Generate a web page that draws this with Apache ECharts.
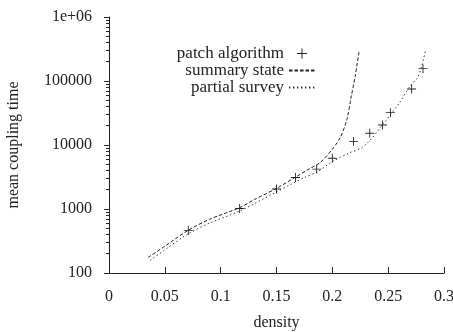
<!DOCTYPE html>
<html>
<head>
<meta charset="utf-8">
<script src="https://cdn.jsdelivr.net/npm/echarts@6/dist/echarts.min.js"></script>
<style>
  html, body { margin: 0; padding: 0; background: #fff; }
  #chart { width: 453px; height: 332px; }
</style>
</head>
<body>
<div id="chart"></div>
<script>
// patch algorithm (markers)
const patchX = [0.071, 0.117, 0.150, 0.167, 0.186, 0.200, 0.219, 0.2335, 0.245, 0.252, 0.271, 0.2812];
const patchY = [460, 1020, 2050, 3100, 4200, 6200, 11300, 15300, 20500, 32000, 75000, 156000];

// summary state (dashed)
const summaryX = [0.035, 0.05, 0.07, 0.09, 0.117, 0.13, 0.15, 0.167, 0.18, 0.189, 0.2, 0.207, 0.213, 0.217, 0.2205, 0.224];
const summaryY = [175, 262, 455, 690, 1050, 1400, 2100, 3150, 4300, 5300, 8600, 13000, 25000, 58000, 119000, 295000];

// partial survey (dotted)
const partialX = [0.037, 0.05, 0.07, 0.09, 0.117, 0.15, 0.162, 0.175, 0.187, 0.2, 0.215, 0.226, 0.234, 0.244, 0.26, 0.27, 0.276, 0.28, 0.2833];
const partialY = [158, 230, 400, 600, 930, 1850, 2380, 3100, 3850, 5500, 7500, 9000, 12000, 19600, 45600, 85000, 110000, 170000, 295000];

const xTicks = [0, 0.05, 0.1, 0.15, 0.2, 0.25, 0.3];
const yRange = [100, 1000000];

const zip = (xs, ys) => xs.map((x, i) => [x, ys[i]]);
const font = 'Liberation Serif';
const ink = '#222';
const plus = 'path://M4.5,0h1v10h-1z M0,4.5h10v1h-10z';

const chart = echarts.init(document.getElementById('chart'));
chart.setOption({
  animation: false,
  grid: { left: 109, right: 9, top: 17, bottom: 59, outerBoundsMode: 'none' },
  legend: {
    orient: 'vertical',
    align: 'right',
    right: 132,
    top: 40,
    itemWidth: 26,
    itemHeight: 10,
    itemGap: 0,
    textStyle: { fontFamily: font, fontSize: 17, lineHeight: 16.7, color: ink },
    data: [
      { name: 'patch algorithm' },
      { name: 'summary state', itemStyle: { opacity: 0 } },
      { name: 'partial survey', itemStyle: { opacity: 0 } }
    ]
  },
  xAxis: {
    type: 'value',
    min: xTicks[0],
    max: xTicks[xTicks.length - 1],
    interval: 0.05,
    name: 'density',
    nameLocation: 'middle',
    nameGap: 42,
    nameTextStyle: { fontFamily: font, fontSize: 16, color: ink },
    axisLine: { show: true, lineStyle: { color: ink } },
    axisTick: { show: true, inside: true, length: 6, lineStyle: { color: ink } },
    axisLabel: { fontFamily: font, fontSize: 16, color: ink, margin: 16 },
    splitLine: { show: true, lineStyle: { opacity: 0 } }
  },
  yAxis: {
    type: 'log',
    min: yRange[0],
    max: yRange[1],
    name: 'mean coupling time',
    nameLocation: 'middle',
    nameGap: 87,
    nameTextStyle: { fontFamily: font, fontSize: 16, color: ink },
    axisLine: { show: true, lineStyle: { color: ink } },
    axisTick: { show: true, length: 5, lineStyle: { color: ink } },
    minorTick: { show: true, splitNumber: 9, length: 3, lineStyle: { color: ink } },
    axisLabel: {
      fontFamily: font, fontSize: 16, color: ink, margin: 17,
      formatter: v => (v >= 1000000 ? '1e+06' : String(v))
    },
    splitLine: { show: true, lineStyle: { opacity: 0 } }
  },
  series: [{
    name: 'patch algorithm',
    type: 'scatter',
    symbol: plus,
    symbolSize: 9,
    itemStyle: { color: ink, opacity: 1 },
    data: zip(patchX, patchY)
  }, {
    name: 'summary state',
    type: 'line',
    showSymbol: false,
    symbol: 'none',
    smooth: 0.3,
    itemStyle: { color: ink },
    lineStyle: { color: ink, width: 1, type: [3.5, 2] },
    data: zip(summaryX, summaryY)
  }, {
    name: 'partial survey',
    type: 'line',
    showSymbol: false,
    symbol: 'none',
    smooth: 0.3,
    itemStyle: { color: ink },
    lineStyle: { color: ink, width: 1, type: [1.3, 2.7] },
    data: zip(partialX, partialY)
  }]
});
</script>
</body>
</html>
